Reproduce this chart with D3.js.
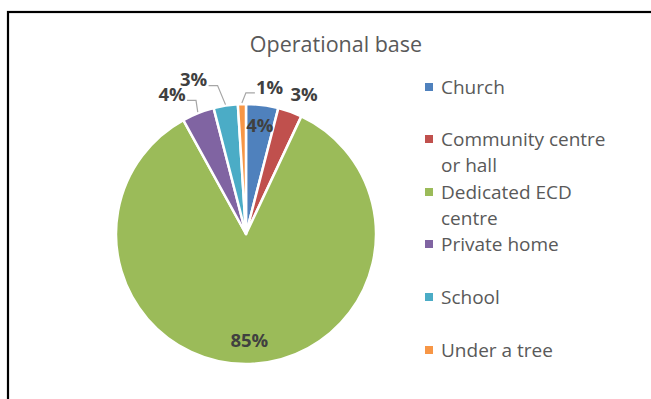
<!DOCTYPE html>
<html>
<head>
<meta charset="utf-8">
<script src="https://cdn.jsdelivr.net/npm/d3@7"></script>
<style>
  html, body { margin: 0; padding: 0; background: #fff; }
  svg { display: block; }
  text { font-family: "Open Sans", "Noto Sans", sans-serif; }
</style>
</head>
<body>
<svg id="chart" width="651" height="399"></svg>
<script>
// Operational base of ECD sites, share of respondents (%)
const categories = ["Church", "Community centre or hall", "Dedicated ECD centre", "Private home", "School", "Under a tree"];
const legendLines = [["Church"], ["Community centre", "or hall"], ["Dedicated ECD", "centre"], ["Private home"], ["School"], ["Under a tree"]];
const values = [4, 3, 85, 4, 3, 1];
const colors = ["#4F81BD", "#C0504D", "#9BBB59", "#8064A2", "#4BACC6", "#F79646"];
const title = "Operational base";

// Label placement per slice: radius from centre and small angular nudge (radians)
const labelPlacement = [
  { r: 110, nudge: 0, leader: false },
  { r: 151, nudge: 0.05, leader: false },
  { r: 106, nudge: 0, leader: false },
  { r: 158, nudge: -0.11, leader: true, side: "left" },
  { r: 163, nudge: -0.17, leader: true, side: "left" },
  { r: 149, nudge: 0.19, leader: true, side: "right" }
];

const svg = d3.select("#chart");
const W = 651, H = 399;

// chart frame
svg.append("rect")
  .attr("x", 8).attr("y", 12)
  .attr("width", W + 10).attr("height", H + 10)
  .attr("fill", "#fff").attr("stroke", "#000").attr("stroke-width", 2.2);

svg.append("text")
  .attr("x", 336).attr("y", 52)
  .attr("text-anchor", "middle")
  .attr("font-size", 21.5)
  .attr("fill", "#595959")
  .text(title);

const cx = 246, cy = 234, R = 130;
const g = svg.append("g").attr("transform", `translate(${cx},${cy})`);

const pie = d3.pie().sort(null).value(d => d)(values);
const arc = d3.arc().innerRadius(0).outerRadius(R);

g.selectAll("path.slice")
  .data(pie)
  .join("path")
  .attr("class", "slice")
  .attr("d", arc)
  .attr("fill", (d, i) => colors[i])
  .attr("stroke", "#fff")
  .attr("stroke-width", 2.5)
  .attr("stroke-linejoin", "round");

const pt = (r, a) => [r * Math.sin(a), -r * Math.cos(a)];

pie.forEach((d, i) => {
  const p = labelPlacement[i];
  const mid = (d.startAngle + d.endAngle) / 2;
  const [lx, ly] = pt(p.r, mid + p.nudge);
  const label = `${values[i]}%`;
  const t = g.append("text")
    .attr("x", lx).attr("y", ly)
    .attr("text-anchor", "middle")
    .attr("dy", "0.36em")
    .attr("font-size", 18.5)
    .attr("font-weight", "bold")
    .attr("fill", "#404040")
    .text(label);
  if (p.leader) {
    const bb = t.node().getBBox();
    const [ax, ay] = pt(R + 1, mid);
    const hy = ly + 6;
    const ex = p.side === "left" ? bb.x + bb.width + 1 : bb.x - 1;
    const kx = p.side === "left" ? ex + 9 : ex - 9;
    g.append("path")
      .attr("d", `M${ex},${hy}L${kx},${hy}L${ax},${ay}`)
      .attr("fill", "none")
      .attr("stroke", "#A6A6A6")
      .attr("stroke-width", 1.2);
  }
});

// legend
const legend = svg.append("g").attr("transform", "translate(425,0)");
const rowTop = [87, 139, 192, 244, 297, 350];
legendLines.forEach((lines, i) => {
  const y0 = rowTop[i];
  legend.append("rect")
    .attr("x", 0).attr("y", y0 - 4)
    .attr("width", 8).attr("height", 8)
    .attr("fill", colors[i]);
  lines.forEach((s, j) => {
    legend.append("text")
      .attr("x", 16).attr("y", y0 + j * 26)
      .attr("dy", "0.36em")
      .attr("font-size", 19)
      .attr("fill", "#595959")
      .text(s);
  });
});
</script>
</body>
</html>
